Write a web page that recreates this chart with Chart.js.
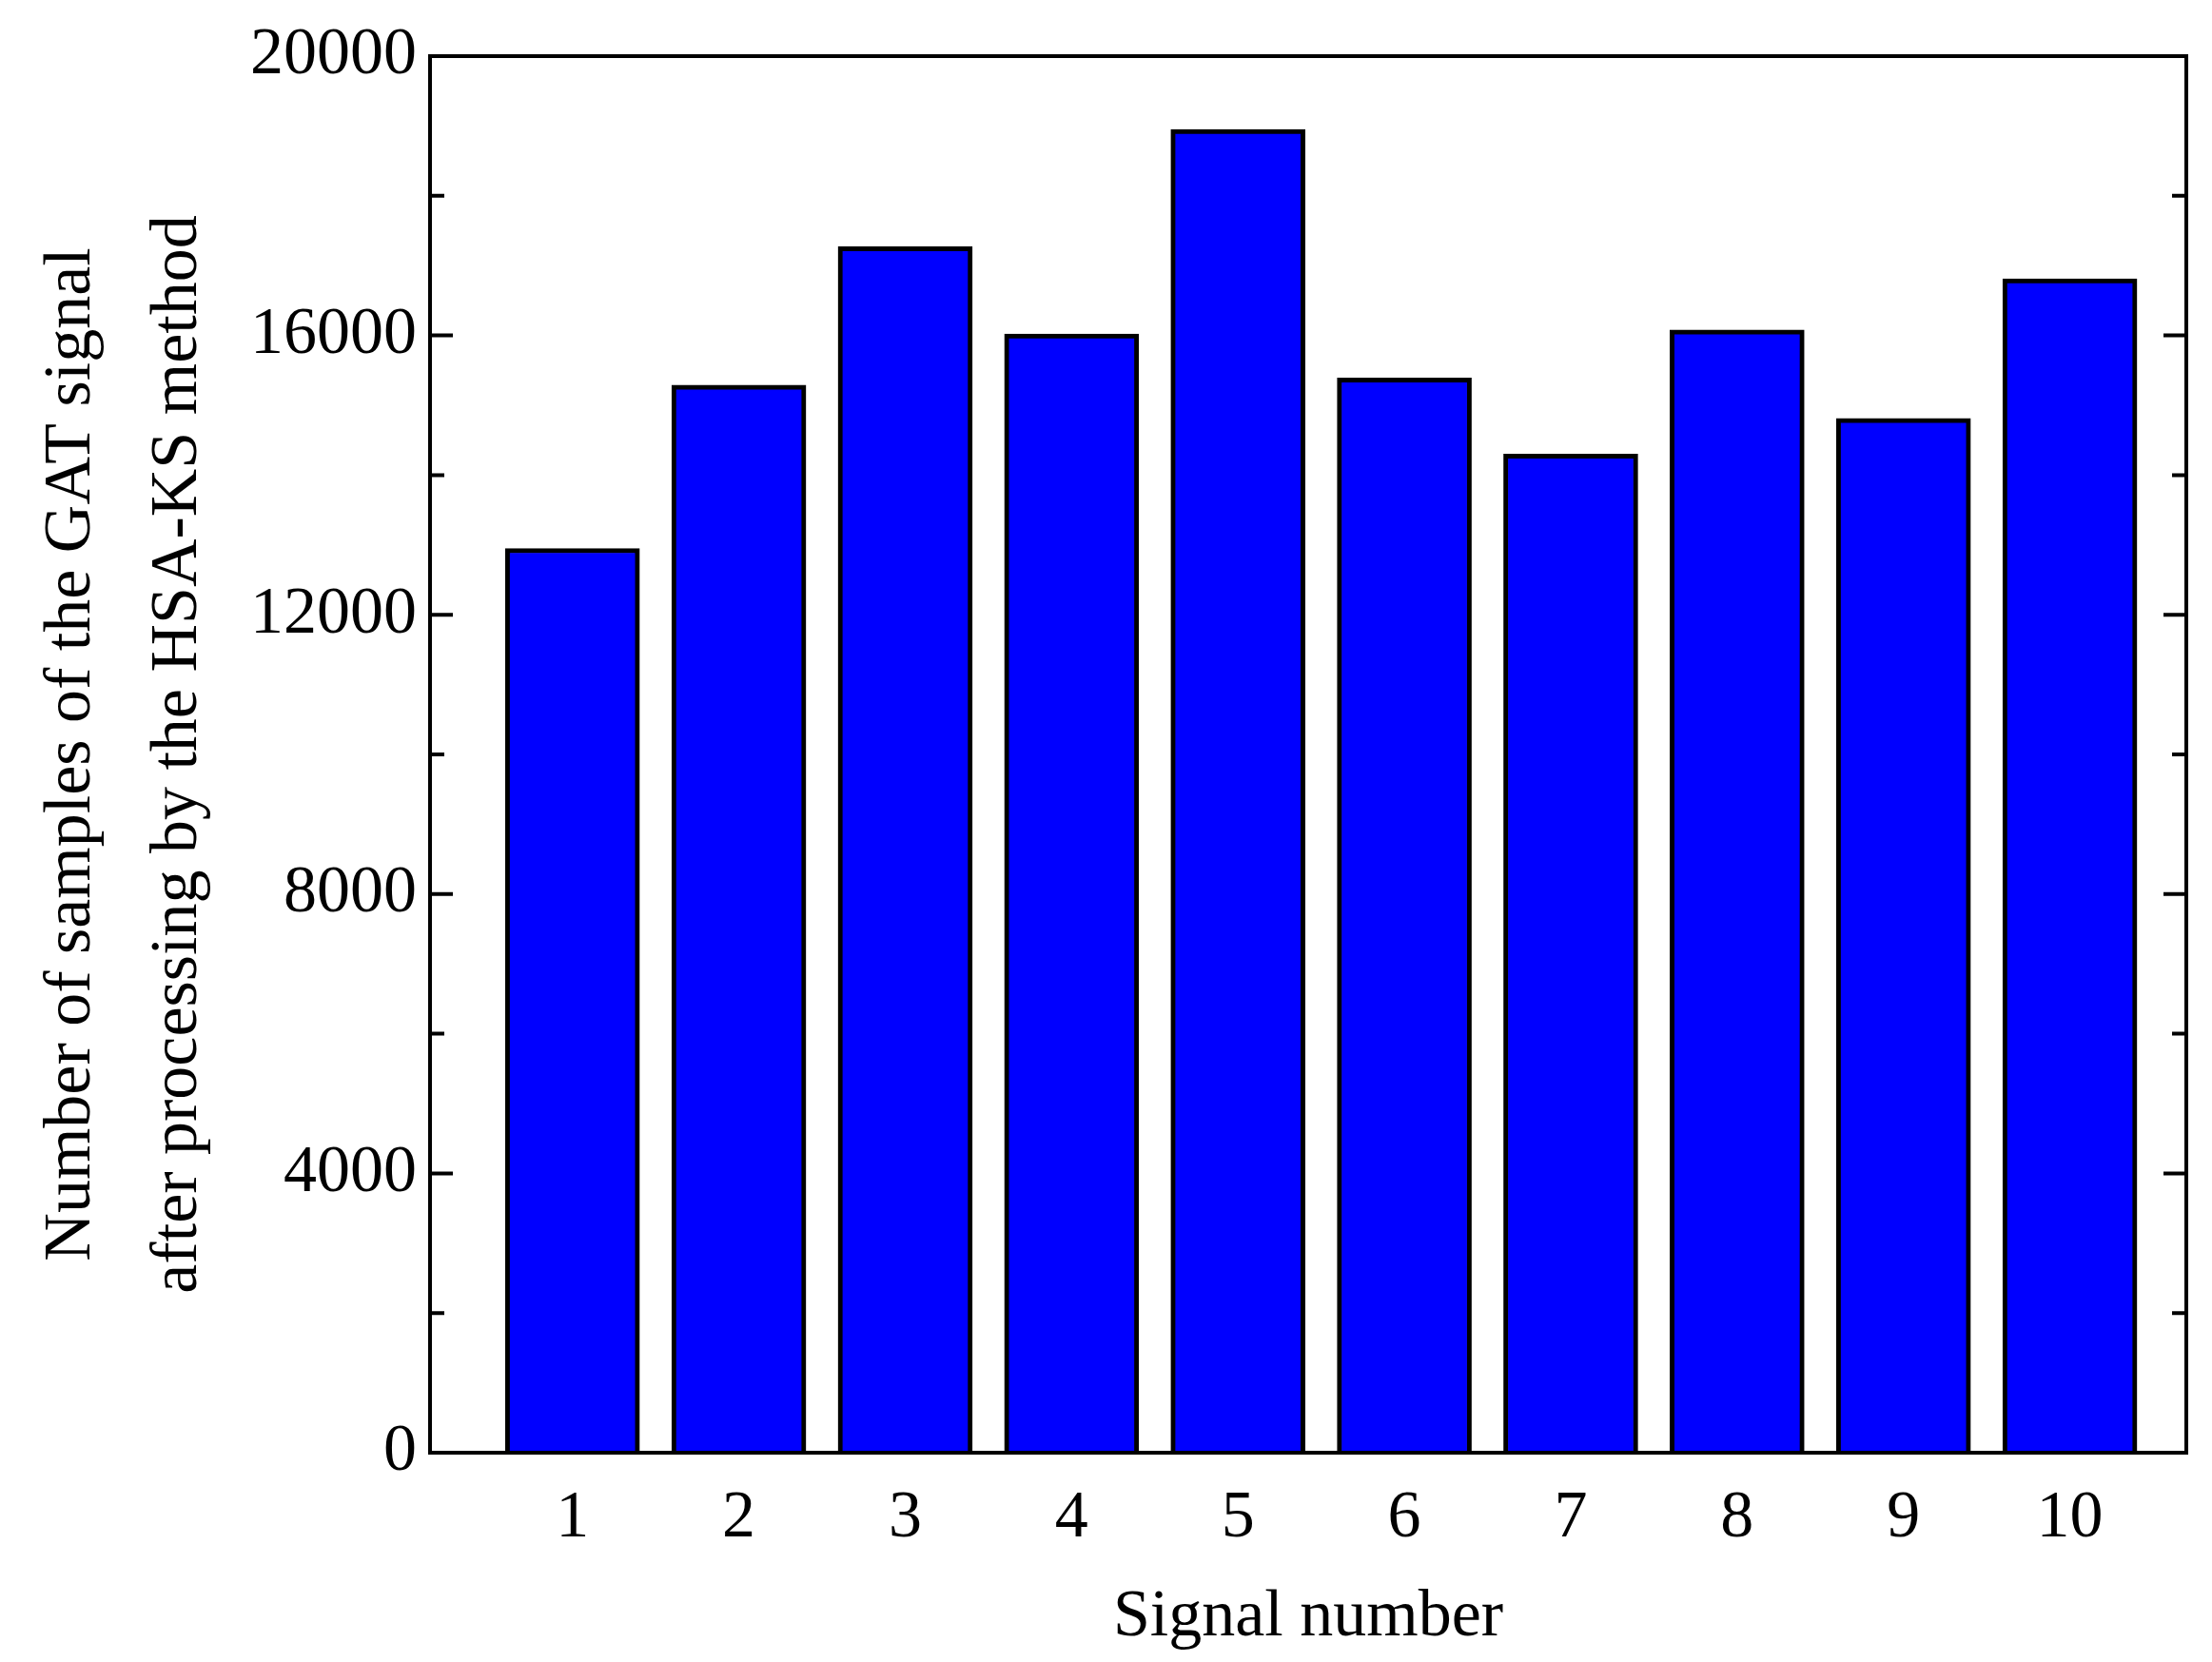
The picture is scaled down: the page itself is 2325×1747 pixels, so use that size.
<!DOCTYPE html>
<html>
<head>
<meta charset="utf-8">
<script src="https://cdn.jsdelivr.net/npm/chart.js@4"></script>
<style>
  html, body { margin: 0; padding: 0; background: #fff; }
  #wrap { width: 2325px; height: 1747px; }
</style>
</head>
<body>
<div id="wrap"><canvas id="chart" width="2325" height="1747"></canvas></div>
<script>
const signalNumbers = [1, 2, 3, 4, 5, 6, 7, 8, 9, 10];
const sampleCounts = [12950, 15290, 17270, 16020, 18950, 15390, 14300, 16080, 14810, 16810];
const yTickValues = [0, 4000, 8000, 12000, 16000, 20000];

const fontFamily = "'Liberation Serif', 'Times New Roman', serif";

// Inward ticks on left and right, plus the box frame
const frameTicks = {
  id: "frameTicks",
  afterDatasetsDraw(chart) {
    const { ctx, chartArea: a, scales } = chart;
    ctx.save();
    ctx.strokeStyle = "#000";
    ctx.lineWidth = 4;
    for (let v = 0; v <= 20000; v += 2000) {
      const y = scales.y.getPixelForValue(v);
      const len = v % 4000 === 0 ? 24 : 15;
      ctx.beginPath();
      ctx.moveTo(a.left, y); ctx.lineTo(a.left + len, y);
      ctx.moveTo(a.right, y); ctx.lineTo(a.right - len, y);
      ctx.stroke();
    }
    ctx.strokeRect(a.left, a.top, a.right - a.left, a.bottom - a.top);
    ctx.restore();
  }
};

new Chart(document.getElementById("chart"), {
  type: "bar",
  data: {
    datasets: [{
      data: signalNumbers.map((n, i) => ({ x: n, y: sampleCounts[i] })),
      backgroundColor: "#0000ff",
      borderColor: "#000",
      borderWidth: 5,
      borderSkipped: "bottom",
      barThickness: 141
    }]
  },
  options: {
    responsive: false,
    animation: false,
    layout: { padding: { top: 59, right: 27, left: 0, bottom: 0 } },
    plugins: { legend: { display: false }, tooltip: { enabled: false } },
    scales: {
      x: {
        type: "linear",
        offset: false,
        min: 0.144,
        max: 10.7,
        grid: { display: false, drawTicks: false },
        border: { display: false },
        afterBuildTicks: s => { s.ticks = signalNumbers.map(v => ({ value: v })); },
        afterFit: s => { s.height = 220; },
        ticks: {
          color: "#000",
          padding: 28,
          font: { family: fontFamily, size: 70 },
          callback: v => String(v)
        },
        title: {
          display: true,
          text: "Signal number",
          color: "#000",
          padding: { top: -8 },
          font: { family: fontFamily, size: 70 }
        }
      },
      y: {
        min: 0,
        max: 20000,
        grid: { display: false, drawTicks: false },
        border: { display: false },
        afterBuildTicks: s => { s.ticks = yTickValues.map(v => ({ value: v })); },
        afterFit: s => { s.width = 452; },
        ticks: {
          color: "#000",
          padding: 14,
          font: { family: fontFamily, size: 70 },
          callback: v => String(v)
        },
        title: {
          display: true,
          text: ["Number of samples of the GAT signal", "after processing by the HSA-KS method"],
          color: "#000",
          padding: { top: 20, bottom: 0 },
          font: { family: fontFamily, size: 70, lineHeight: 1.6 }
        }
      }
    }
  },
  plugins: [frameTicks]
});
</script>
</body>
</html>
